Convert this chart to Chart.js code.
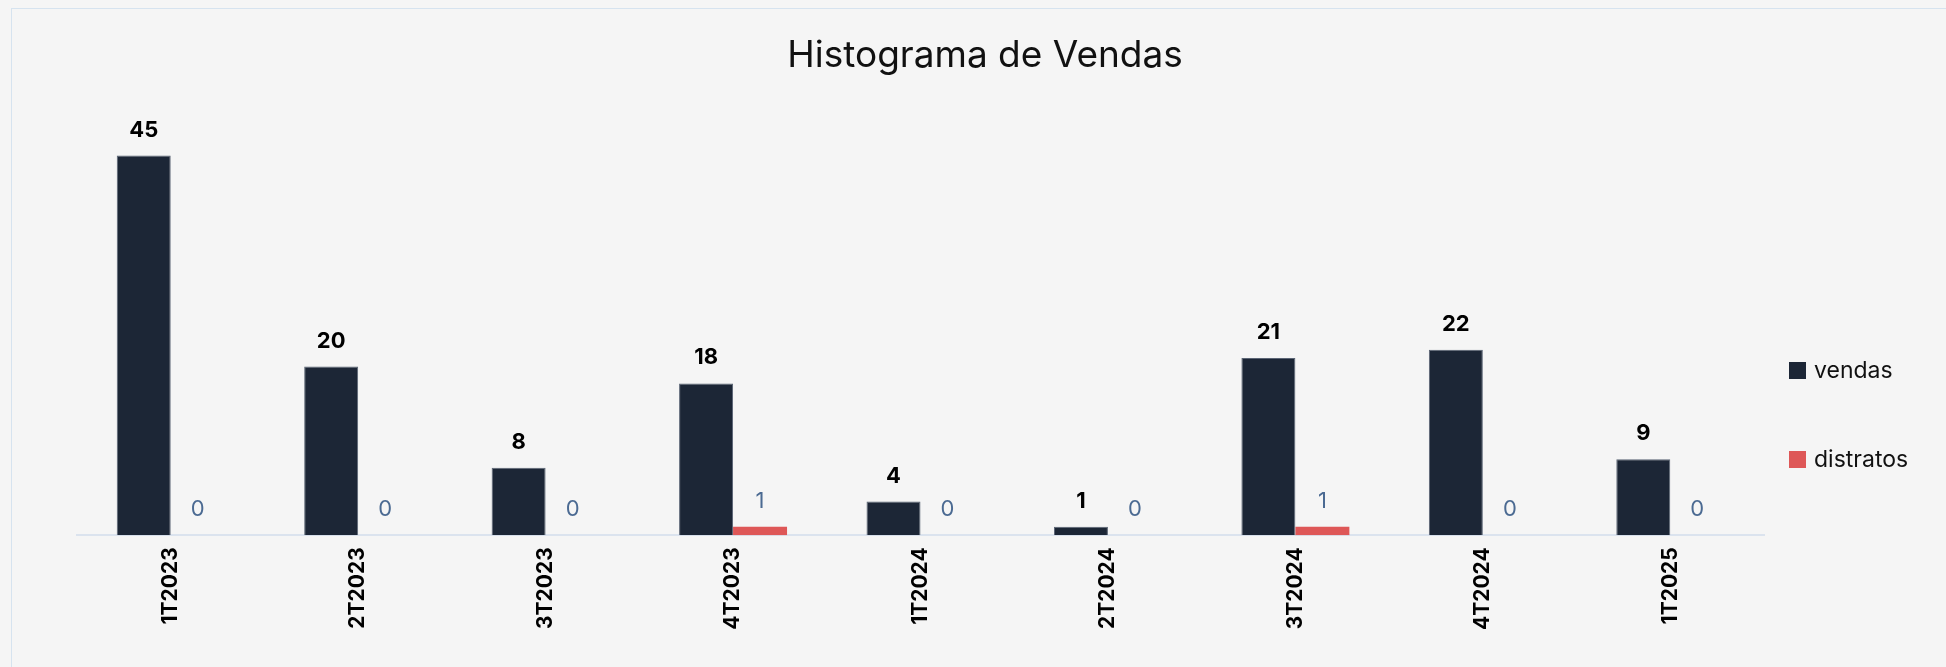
<!DOCTYPE html>
<html>
<head>
<meta charset="utf-8">
<script src="https://cdn.jsdelivr.net/npm/chart.js@4.4.1/dist/chart.umd.min.js"></script>
<style>
  body { margin: 0; background: #f5f5f5; overflow: hidden; font-family: Inter, sans-serif; }
  .panel { position: absolute; left: 11px; top: 8px; width: 2000px; height: 700px; border: 1px solid #d6e3ef; }
  .chart-box { position: absolute; left: 0; top: 0; width: 1934px; height: 658px; }
  #legend { position: absolute; left: 1777px; top: 349px; list-style: none; margin: 0; padding: 0; }
  #legend li { display: flex; align-items: center; height: 24px; margin-bottom: 65px; font-size: 23px; color: #111; }
  #legend .box { width: 17px; height: 17px; margin-right: 8px; }
</style>
</head>
<body>
<div class="panel">
  <div class="chart-box"><canvas id="vendasChart"></canvas></div>
  <ul id="legend"></ul>
</div>
<script>
const quarters = ['1T2023', '2T2023', '3T2023', '4T2023', '1T2024', '2T2024', '3T2024', '4T2024', '1T2025'];
const vendas = [45, 20, 8, 18, 4, 1, 21, 22, 9];
const distratos = [0, 0, 0, 1, 0, 0, 1, 0, 0];

const FONT = 'Inter';

// value above every bar
const valueLabels = {
  id: 'valueLabels',
  afterDatasetsDraw(chart) {
    const ctx = chart.ctx;
    chart.data.datasets.forEach((ds, i) => {
      const meta = chart.getDatasetMeta(i);
      ctx.save();
      ctx.font = ds.valueFont;
      ctx.fillStyle = ds.valueColor;
      ctx.textAlign = 'center';
      ctx.textBaseline = 'alphabetic';
      meta.data.forEach((bar, j) => {
        ctx.fillText(ds.data[j], bar.x, bar.y - 19);
      });
      ctx.restore();
    });
  }
};

const data = {
  labels: quarters,
  datasets: [
    {
      label: 'vendas',
      data: vendas,
      backgroundColor: '#1c2636',
      borderColor: '#5a6474',
      borderWidth: 1,
      valueFont: 'bold 22px ' + FONT,
      valueColor: '#000'
    },
    {
      label: 'distratos',
      data: distratos,
      backgroundColor: '#de5757',
      valueFont: '22px ' + FONT,
      valueColor: '#4b6a92'
    }
  ]
};

const config = {
  type: 'bar',
  data: data,
  options: {
    responsive: true,
    maintainAspectRatio: false,
    animation: false,
    categoryPercentage: 0.576,
    barPercentage: 1,
    layout: { padding: { left: 65, right: 53, bottom: 25 } },
    scales: {
      x: {
        grid: { display: false, drawTicks: false },
        border: { display: true, color: '#dbe3ee', width: 2 },
        ticks: {
          color: '#000',
          font: { family: FONT, size: 21, weight: 'bold' },
          minRotation: 90,
          maxRotation: 90,
          padding: 12
        }
      },
      y: {
        position: 'right',
        min: 0,
        max: 50,
        grid: { display: false, drawTicks: false },
        border: { display: false },
        ticks: { display: false },
        // keeps room for the legend next to the bars
        afterFit(scale) { scale.width = 129; }
      }
    },
    plugins: {
      legend: { display: false },
      tooltip: { enabled: false },
      title: {
        display: true,
        text: 'Histograma de Vendas',
        color: '#111',
        font: { family: FONT, size: 37, weight: 'normal' },
        padding: { top: 25, bottom: 35 }
      }
    }
  },
  plugins: [valueLabels]
};

var vendasChart = new Chart(document.getElementById('vendasChart'), config);

// html legend from the datasets
const legend = document.getElementById('legend');
vendasChart.data.datasets.forEach(ds => {
  const li = document.createElement('li');
  const box = document.createElement('span');
  box.className = 'box';
  box.style.background = ds.backgroundColor;
  li.appendChild(box);
  li.appendChild(document.createTextNode(ds.label));
  legend.appendChild(li);
});
</script>
</body>
</html>
